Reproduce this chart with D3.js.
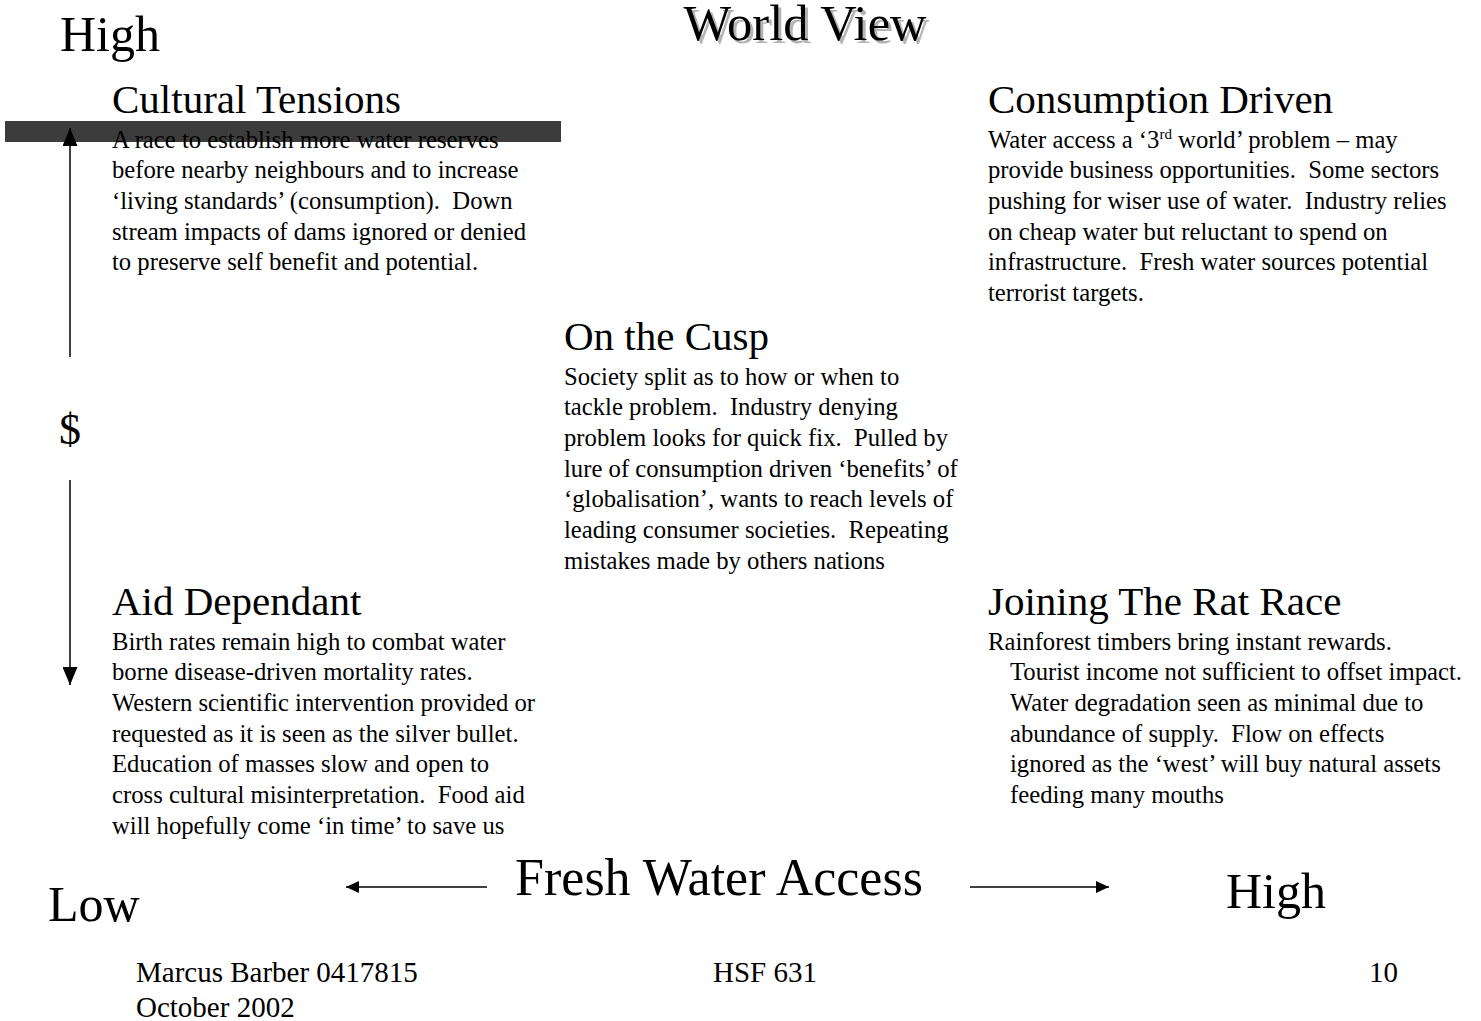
<!DOCTYPE html>
<html>
<head>
<meta charset="utf-8">
<script src="https://cdn.jsdelivr.net/npm/d3@7"></script>
<title>World View</title>
<style>
body { margin: 0; background: #fff; }
svg text { font-family: "Liberation Serif", "Times New Roman", serif; white-space: pre; }
</style>
</head>
<body>
<div id="chart"></div>
<script>
(function(){

var w = 1481, h = 1021;

// --- data ---
var title = "World View";
var moneyLevels = ["High", "Mid", "Low"];
var waterLevels = ["Low", "Mid", "High"];
var yAxisLabel = "$";
var xAxisLabel = "Fresh Water Access";
var scenarioNames = ["Cultural Tensions", "Consumption Driven", "On the Cusp", "Aid Dependant", "Joining The Rat Race"];
var scenarioMoney = ["High", "High", "Mid", "Low", "Low"];
var scenarioWater = ["Low", "High", "Mid", "Low", "High"];
var scenarioText = [
  ["A race to establish more water reserves",
   "before nearby neighbours and to increase",
   "\u2018living standards\u2019 (consumption).  Down",
   "stream impacts of dams ignored or denied",
   "to preserve self benefit and potential."],
  ["Water access a \u20183^rd^ world\u2019 problem \u2013 may",
   "provide business opportunities.  Some sectors",
   "pushing for wiser use of water.  Industry relies",
   "on cheap water but reluctant to spend on",
   "infrastructure.  Fresh water sources potential",
   "terrorist targets."],
  ["Society split as to how or when to",
   "tackle problem.  Industry denying",
   "problem looks for quick fix.  Pulled by",
   "lure of consumption driven \u2018benefits\u2019 of",
   "\u2018globalisation\u2019, wants to reach levels of",
   "leading consumer societies.  Repeating",
   "mistakes made by others nations"],
  ["Birth rates remain high to combat water",
   "borne disease-driven mortality rates.",
   "Western scientific intervention provided or",
   "requested as it is seen as the silver bullet.",
   "Education of masses slow and open to",
   "cross cultural misinterpretation.  Food aid",
   "will hopefully come \u2018in time\u2019 to save us"],
  ["Rainforest timbers bring instant rewards.",
   "Tourist income not sufficient to offset impact.",
   "Water degradation seen as minimal due to",
   "abundance of supply.  Flow on effects",
   "ignored as the \u2018west\u2019 will buy natural assets",
   "feeding many mouths"]
];
var footerLeft = ["Marcus Barber 0417815", "October 2002"];
var footerCentre = "HSF 631";
var slideNumber = "10";

// --- layout ---
var x = d3.scaleOrdinal().domain(waterLevels).range([112, 564, 988]);
var y = d3.scaleOrdinal().domain(moneyLevels).range([113, 350, 615]);
var lineStep = 30.7, bodyGap = 34.5;
var hangIndent = { "Joining The Rat Race": 22 };

var svg = d3.select("#chart").append("svg")
    .attr("width", w).attr("height", h);

var defs = svg.append("defs");
function marker(id, len, wid) {
  defs.append("marker").attr("id", id)
      .attr("viewBox", "0 0 10 10").attr("refX", 10).attr("refY", 5)
      .attr("markerWidth", len).attr("markerHeight", wid)
      .attr("markerUnits", "userSpaceOnUse").attr("orient", "auto")
      .attr("preserveAspectRatio", "none")
    .append("path").attr("d", "M0,0L10,5L0,10Z").attr("fill", "#000");
}
marker("vhead", 18, 15);
marker("hhead", 13, 12);

// dark bar behind the top-left text
svg.append("rect")
    .attr("x", 5).attr("y", 121).attr("width", 556).attr("height", 21)
    .attr("fill", "#3c3c3c");

// title with shadow
svg.append("text").attr("x", 808).attr("y", 43)
    .attr("text-anchor", "middle").attr("font-size", 50.5)
    .attr("fill", "#b4b4b4").text(title);
svg.append("text").attr("x", 805).attr("y", 40)
    .attr("text-anchor", "middle").attr("font-size", 50.5)
    .attr("fill", "#000").text(title);

// vertical axis ($)
svg.append("line").attr("x1", 70).attr("x2", 70).attr("y1", 357).attr("y2", 128)
    .attr("stroke", "#000").attr("stroke-width", 1.5)
    .attr("marker-end", "url(#vhead)");
svg.append("line").attr("x1", 70).attr("x2", 70).attr("y1", 480).attr("y2", 685)
    .attr("stroke", "#000").attr("stroke-width", 1.5)
    .attr("marker-end", "url(#vhead)");
svg.append("text").attr("x", 70).attr("y", 444)
    .attr("text-anchor", "middle").attr("font-size", 44).text(yAxisLabel);
svg.append("text").attr("x", 60).attr("y", 51)
    .attr("font-size", 50).text(moneyLevels[0]);

// horizontal axis
svg.append("line").attr("x1", 487).attr("x2", 346).attr("y1", 887).attr("y2", 887)
    .attr("stroke", "#000").attr("stroke-width", 1.5)
    .attr("marker-end", "url(#hhead)");
svg.append("line").attr("x1", 970).attr("x2", 1109).attr("y1", 887).attr("y2", 887)
    .attr("stroke", "#000").attr("stroke-width", 1.5)
    .attr("marker-end", "url(#hhead)");
svg.append("text").attr("x", 719).attr("y", 895)
    .attr("text-anchor", "middle").attr("font-size", 52).text(xAxisLabel);
svg.append("text").attr("x", 48).attr("y", 921)
    .attr("font-size", 50).text(waterLevels[0]);
svg.append("text").attr("x", 1226).attr("y", 908)
    .attr("font-size", 50).text(waterLevels[2]);

// scenarios
var groups = svg.selectAll("g.scenario")
    .data(scenarioNames.map(function(name, i) {
      return { name: name, money: scenarioMoney[i], water: scenarioWater[i], lines: scenarioText[i] };
    }))
  .enter().append("g").attr("class", "scenario")
    .attr("transform", function(d) { return "translate(" + x(d.water) + "," + y(d.money) + ")"; });

groups.append("text").attr("font-size", 41).text(function(d) { return d.name; });

groups.each(function(d) {
  var g = d3.select(this);
  var indent = hangIndent[d.name] || 0;
  d.lines.forEach(function(line, j) {
    var t = g.append("text").attr("font-size", 24.7)
        .attr("x", j > 0 ? indent : 0)
        .attr("y", bodyGap + j * lineStep);
    var parts = line.split("^");
    parts.forEach(function(p, k) {
      if (k % 2 === 1) {
        t.append("tspan").attr("dy", -9).attr("font-size", 15).text(p);
      } else {
        t.append("tspan").attr("dy", k > 0 ? 9 : 0).text(p);
      }
    });
  });
});

// footer
svg.selectAll("text.foot").data(footerLeft).enter().append("text")
    .attr("class", "foot").attr("x", 136)
    .attr("y", function(d, i) { return 982 + i * 35; })
    .attr("font-size", 29).text(function(d) { return d; });
svg.append("text").attr("x", 765).attr("y", 982)
    .attr("text-anchor", "middle").attr("font-size", 29).text(footerCentre);
svg.append("text").attr("x", 1398).attr("y", 982)
    .attr("text-anchor", "end").attr("font-size", 29).text(slideNumber);

})();
</script>
</body>
</html>
